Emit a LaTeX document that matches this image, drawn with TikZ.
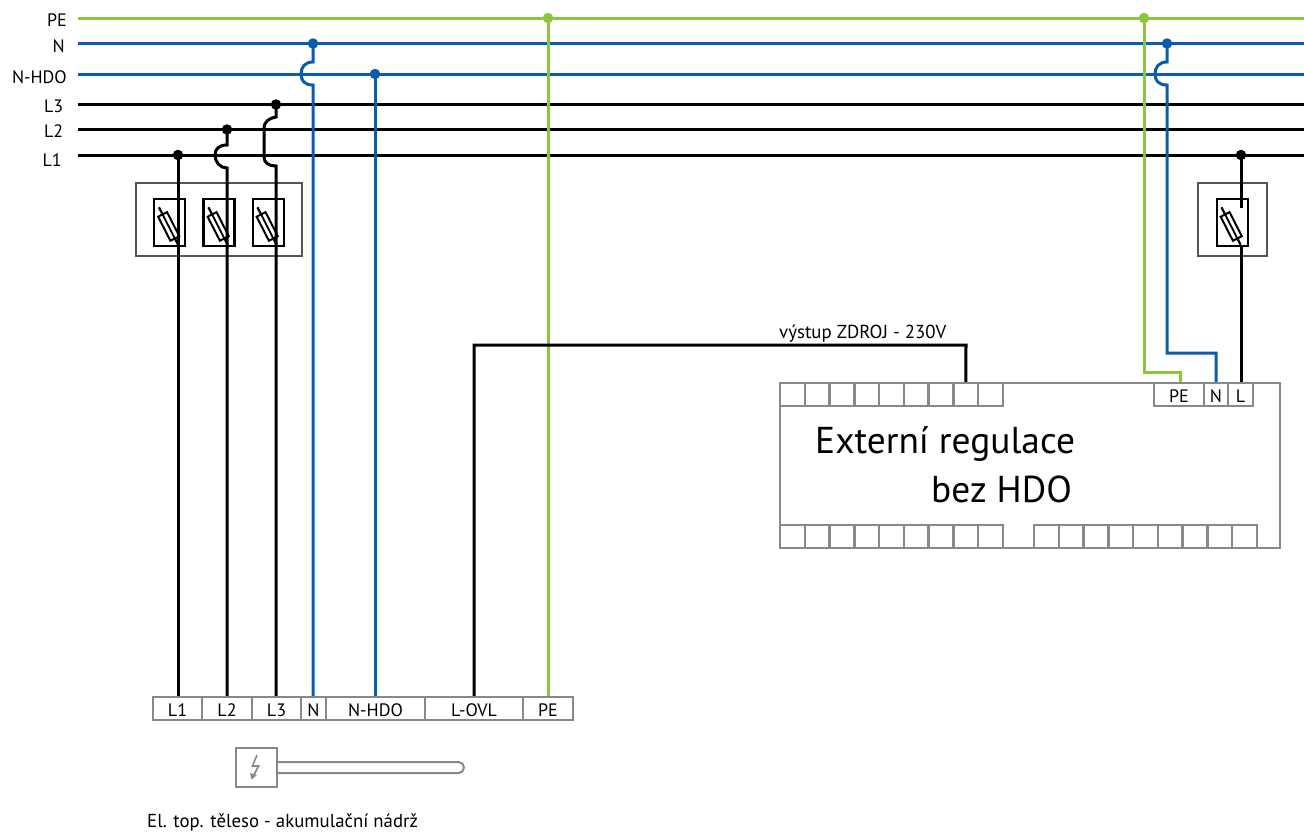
\documentclass[tikz,border=0pt]{standalone}
\usepackage{fontspec}
\setmainfont{PT Sans}
\definecolor{pegreen}{HTML}{8CC63F}
\definecolor{nblue}{HTML}{0B5CAB}
\definecolor{framegray}{HTML}{888888}
\definecolor{boxgray}{HTML}{555555}
\tikzset{
  px/.style={x=1pt,y=-1pt},
  wire/.style={line width=3pt},
  pewire/.style={wire,pegreen},
  nwire/.style={wire,nblue},
  lwire/.style={wire,black},
  joint/.style={circle,fill,inner sep=0pt,minimum size=10.5pt},
  cell/.style={draw=framegray,line width=2.4pt,rectangle,inner sep=0pt,minimum height=23pt,text height=15pt,text depth=0pt,font=\fontsize{18}{20}\selectfont},
  buslabel/.style={inner sep=0pt,anchor=base east,font=\fontsize{18}{20}\selectfont},
  plain/.style={inner sep=0pt,anchor=base west},
  fusebox/.style={draw=boxgray,line width=2pt},
  fuseframe/.style={draw=black,line width=2.8pt,rectangle,inner sep=0pt,minimum width=31pt,minimum height=47pt},
}
\newcommand{\fusesym}[2]{%
  \begin{scope}[shift={(#1,#2)},rotate=27]
    \draw[line width=2.2pt] (0,-21) -- (0,21);
    \draw[line width=2pt,fill=white] (-5,-13) rectangle (5,14);
    \draw[line width=1.8pt] (0,-13) -- (0,14);
  \end{scope}}
\begin{document}
\begin{tikzpicture}[px]
\useasboundingbox (0,0) rectangle (1304,831);
% bus labels
\node[buslabel] (lPE) at (67,26) {PE};
\node[buslabel] (lN) at (65,52) {N};
\node[buslabel] (lNH) at (67,83) {N-HDO};
\node[buslabel] (lL3) at (63.5,112) {L3};
\node[buslabel] (lL2) at (63.5,137) {L2};
\node[buslabel] (lL1) at (62,166) {L1};
% bus ends
\coordinate (pe0) at (78,18);\coordinate (pe1) at (1304,18);
\coordinate (n0) at (78,43.5);\coordinate (n1) at (1304,43.5);
\coordinate (nh0) at (78,74);\coordinate (nh1) at (1304,74);
\coordinate (l30) at (78,104.5);\coordinate (l31) at (1304,104.5);
\coordinate (l20) at (78,129.5);\coordinate (l21) at (1304,129.5);
\coordinate (l10) at (78,155);\coordinate (l11) at (1304,155);
% gray frames
\node[fusebox,rectangle,inner sep=0pt,minimum width=166pt,minimum height=73pt] (fb3) at (219,219.5) {};
\node[fusebox,rectangle,inner sep=0pt,minimum width=69pt,minimum height=73pt] (fb1) at (1232.5,219.5) {};
% terminal strip
\node[cell,minimum width=49pt] (tL1) at (177.5,708.5) {L1\hspace{5pt}};
\node[cell,minimum width=50pt] (tL2) at (227,708.5) {L2\hspace{2pt}};
\node[cell,minimum width=49pt] (tL3) at (276.5,708.5) {L3\hspace{3pt}};
\node[cell,minimum width=25pt] (tN) at (313.5,708.5) {N};
\node[cell,minimum width=99pt] (tNH) at (375.5,708.5) {N-HDO\hspace{3pt}};
\node[cell,minimum width=98pt] (tOV) at (474,708.5) {L-OVL\hspace{12pt}};
\node[cell,minimum width=50pt] (tPE) at (548,708.5) {PE\hspace{2pt}};
% heater
\coordinate (tubetop) at (458.5,762);
\coordinate (tubebot) at (458.5,773);
\node[draw=framegray,line width=2.2pt,rectangle,inner sep=0pt,minimum width=41pt,minimum height=39pt] (heat) at (256.5,767.5) {};
\draw[framegray,line width=2pt] (heat.east |- tubetop) -- (tubetop) arc[start angle=-90,end angle=90,radius=5.5] -- (heat.east |- tubebot);
\draw[framegray,line width=1.6pt] (257,755) -- (252.5,766) -- (258.5,766) -- (253,777);
\fill[framegray] (250,773) -- (257,775) -- (251.5,779.5) -- cycle;
\node[plain,font=\fontsize{18.8}{20}\selectfont] (heatl) at (147,827.5) {El. top. těleso - akumulační nádrž};
% regulator
\node[draw=framegray,line width=2.2pt,rectangle,inner sep=0pt,minimum width=500pt,minimum height=165pt] (reg) at (1030,465.5) {};
\foreach \i [evaluate=\i as \cx using {780+(\i-.5)*24.78}] in {1,...,9}{
  \node[cell,minimum width=24.78pt] (rt\i) at (\cx,394.5) {};
  \node[cell,minimum width=24.78pt] (rb\i) at (\cx,536.5) {};
}
\foreach \i [evaluate=\i as \cx using {1034+(\i-.5)*24.78}] in {1,...,9}{
  \node[cell,minimum width=24.78pt] (rc\i) at (\cx,536.5) {};
}
\node[cell,minimum width=50pt] (rPE) at (1179,394.5) {PE\hspace{8pt}};
\node[cell,minimum width=24pt] (rN) at (1216,394.5) {N};
\node[cell,minimum width=25pt] (rL) at (1240.5,394.5) {L};
\node[plain,font=\fontsize{37.4}{42}\selectfont] (t1) at (815,453) {Externí regulace};
\node[plain,font=\fontsize{37.4}{42}\selectfont] (t2) at (931,502) {bez HDO};
\node[plain,font=\fontsize{18.8}{20}\selectfont] (t3) at (779,338.5) {výstup ZDROJ - 230V};
% fuse frames
\node[fuseframe] (f1) at (169.5,222.5) {};
\node[fuseframe] (f2) at (219,222.5) {};
\node[fuseframe] (f3) at (268.5,222.5) {};
\node[fuseframe] (f4) at (1232.5,222.5) {};
% buses
\draw[pewire] (pe0) -- (pe1);
\draw[nwire] (n0) -- (n1);
\draw[nwire] (nh0) -- (nh1);
\draw[lwire] (l30) -- (l31);
\draw[lwire] (l20) -- (l21);
\draw[lwire] (l10) -- (l11);
% joints
\node[joint,pegreen] (jpe1) at (548,18) {};
\node[joint,pegreen] (jpe2) at (1144,18) {};
\node[joint,nblue] (jn1) at (313,43.5) {};
\node[joint,nblue] (jn2) at (1167,43.5) {};
\node[joint,nblue] (jnh) at (375,74) {};
\node[joint,black] (jl3) at (276,104.5) {};
\node[joint,black] (jl2) at (227,129.5) {};
\node[joint,black] (jl1) at (178,155) {};
\node[joint,black] (jl1b) at (1241,155) {};
% fuses
\fusesym{168.5}{226}
\fusesym{218}{226}
\fusesym{267}{226}
\fusesym{1231}{226}
% drops
\draw[lwire] (jl1.center) -- (tL1.north -| jl1);
\draw[lwire] (jl2.center) -- (227,145) .. controls (219,145) and (215,149) .. (215,155) .. controls (215,162) and (220,168) .. (227,168) -- (tL2.north -| jl2);
\draw[lwire] (jl3.center) -- (276,117) .. controls (269,118) and (264,122) .. (264,128) -- (264,157) .. controls (264,163) and (269,166) .. (276,166) -- (tL3.north -| jl3);
\draw[nwire] (jn1.center) -- (313,62) .. controls (305,62) and (301,67) .. (301,74) .. controls (301,81) and (305,85) .. (313,85) -- (tN.north -| jn1);
\draw[nwire] (jnh.center) -- (tNH.north -| jnh);
\draw[pewire] (jpe1.center) -- (tPE.north -| jpe1);
\draw[lwire] (tOV.north) -- (474,345) -- (966,345) -- (rt8.north);
\draw[pewire] (jpe2.center) -- (1144,372.5) -- (1180,372.5) -- (rPE.north -| 1180,0);
\draw[nwire] (jn2.center) -- (1167,62) .. controls (1159,62) and (1155,67) .. (1155,74) .. controls (1155,81) and (1159,85) .. (1167,85) -- (1167,353) -- (1216,353) -- (rN.north);
\draw[lwire] (jl1b.center) -- (1241,208);
\draw[lwire] (1241,246) -- (rL.north -| jl1b);
\end{tikzpicture}
\end{document}
